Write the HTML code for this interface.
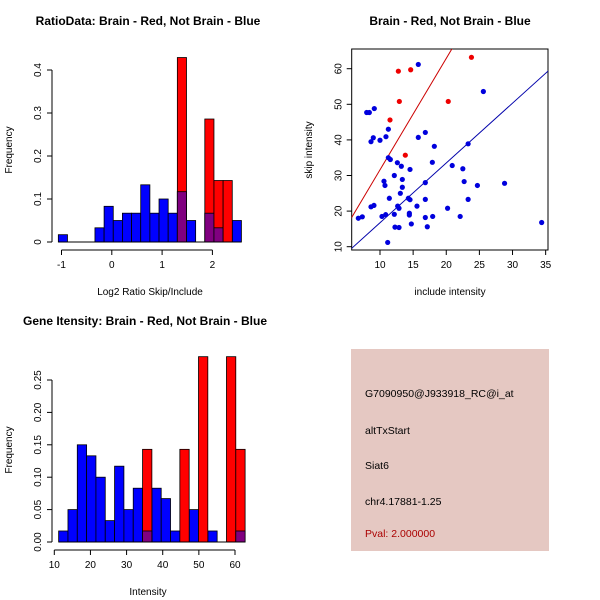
<!DOCTYPE html>
<html><head><meta charset="utf-8"><style>
body{margin:0;background:#fff}
svg{display:block;font-family:"Liberation Sans",sans-serif}
</style></head><body>
<svg id="c" width="600" height="600" viewBox="0 0 600 600"></svg>
<script>
// ---- Panel 1 data (ratio histogram) ----
const ratioStart = -1.063;
const ratioBinWidth = 0.182;
const ratioBlue = [0.017,0,0,0,0.033,0.083,0.05,0.067,0.067,0.133,0.067,0.1,0.067,0.117,0.05,0,0.067,0.033,0,0.05];
const ratioRed  = [0,0,0,0,0,0,0,0,0,0,0,0,0,0.429,0,0,0.286,0.143,0.143,0];
const ratioXTicks = [-1,0,1,2];
const ratioYTicks = [0,0.1,0.2,0.3,0.4];
// ---- Panel 2 data (scatter) ----
const blueX = [6.73,7.33,7.99,8.39,9.14,8.64,8.99,10,10.9,11.26,11.26,11.56,12.62,13.22,14.53,12.16,10.6,10.75,13.37,13.37,13.07,11.41,14.28,14.53,12.67,12.87,8.64,9.09,10.3,10.86,12.16,14.43,14.43,11.16,12.26,12.87,14.73,15.58,16.84,17.95,17.14,16.84,16.84,15.78,16.84,18.2,17.9,20.2,20.9,22.5,22.7,22.1,23.3,24.7,28.8,23.3,25.6,34.4,15.78];
const blueY = [18,18.4,47.7,47.7,48.8,39.5,40.6,39.9,40.9,43,35,34.5,33.6,32.6,31.7,30,28.4,27.2,28.9,26.7,25,23.6,23.6,23.2,21.4,20.8,21.2,21.6,18.5,19,19.1,19.4,18.9,11.2,15.5,15.4,16.4,21.4,18.2,18.5,15.6,23.3,28,40.7,42.1,38.2,33.7,20.8,32.8,31.9,28.3,18.5,23.3,27.2,27.8,38.9,53.6,16.8,61.2];
const redX = [12.77,14.63,12.92,11.51,13.82,20.3,23.8];
const redY = [59.3,59.7,50.8,45.6,35.7,50.8,63.2];
const redFit = [0.3,3.13];   // intercept, slope
const blueFit = [-0.08,1.68];
const scXTicks = [10,15,20,25,30,35];
const scYTicks = [10,20,30,40,50,60];
// ---- Panel 3 data (intensity histogram) ----
const intStart = 11.2;
const intBinWidth = 2.58;
const intBlue = [0.017,0.05,0.15,0.133,0.1,0.033,0.117,0.05,0.083,0.017,0.083,0.067,0.017,0,0.05,0,0.017,0,0,0.017];
const intRed  = [0,0,0,0,0,0,0,0,0,0.143,0,0,0,0.143,0,0.286,0,0,0.286,0.143];
const intXTicks = [10,20,30,40,50,60];
const intYTicks = [0,0.05,0.1,0.15,0.2,0.25];
const intYLabels = ["0.00","0.05","0.10","0.15","0.20","0.25"];
// ---- Panel 4 text ----
const infoLines = ["G7090950@J933918_RC@i_at","altTxStart","Siat6","chr4.17881-1.25"];
const pvalText = "Pval: 2.000000";

const NS="http://www.w3.org/2000/svg";
const svg=document.getElementById('c');
function el(tag,attrs,parent){const e=document.createElementNS(NS,tag);for(const k in attrs)e.setAttribute(k,attrs[k]);(parent||svg).appendChild(e);return e;}
function txt(s,attrs,parent){const e=el('text',attrs,parent);e.textContent=s;return e;}

function histogram(g,opts){
  const {x0,x1,y0,y1,xmin,xmax,ymin,ymax,start,bw,blue,red,xt,yt,ylab,axisX,axisY}=opts;
  const sx=v=>x0+(v-xmin)/(xmax-xmin)*(x1-x0);
  const sy=v=>y0-(v-ymin)/(ymax-ymin)*(y0-y1);
  for(let i=0;i<blue.length;i++){
    const l=sx(start+i*bw), r=sx(start+(i+1)*bw);
    if(blue[i]>0){const b=el('rect',{x:l,y:sy(blue[i]),width:r-l,height:sy(0)-sy(blue[i]),fill:'#0000ff',stroke:'#000','stroke-width':0.8},g);
      
      }
  }
  for(let i=0;i<red.length;i++){
    const l=sx(start+i*bw), r=sx(start+(i+1)*bw);
    if(red[i]>0){const b=el('rect',{x:l,y:sy(red[i]),width:r-l,height:sy(0)-sy(red[i]),fill:'#ff0000',stroke:'#000','stroke-width':0.8},g);
      
      
      const m=Math.min(red[i],blue[i]);
      if(m>0){const p=el('rect',{x:l,y:sy(m),width:r-l,height:sy(0)-sy(m),fill:'#800080',stroke:'#000','stroke-width':0.8},g);
        
        }
    }
  }
  el('line',{x1:sx(start),x2:sx(start+blue.length*bw),y1:sy(0),y2:sy(0),stroke:'#000','stroke-width':1},g);
  const ya=el('g',{},g);
  
  
  el('line',{x1:axisX,x2:axisX,y1:sy(yt[0]),y2:sy(yt[yt.length-1]),stroke:'#000'},ya);
  yt.forEach((v,i)=>{el('line',{x1:axisX-5,x2:axisX,y1:sy(v),y2:sy(v),stroke:'#000'},ya);
    txt(ylab?ylab[i]:String(v),{x:axisX-11,y:sy(v),transform:`rotate(-90 ${axisX-11} ${sy(v)})`,'text-anchor':'middle','font-size':10},ya);});
  const xa=el('g',{},g);
  
  
  el('line',{x1:sx(xt[0]),x2:sx(xt[xt.length-1]),y1:axisY,y2:axisY,stroke:'#000'},xa);
  xt.forEach(v=>{el('line',{x1:sx(v),x2:sx(v),y1:axisY,y2:axisY+5,stroke:'#000'},xa);
    txt(String(v),{x:sx(v),y:axisY+18,'text-anchor':'middle','font-size':10},xa);});
}

const g1=el('g',{});


histogram(g1,{x0:61.5,x1:212.4,y0:242,y1:70,xmin:-1,xmax:2,ymin:0,ymax:0.4,start:ratioStart,bw:ratioBinWidth,blue:ratioBlue,red:ratioRed,xt:ratioXTicks,yt:ratioYTicks,axisX:52,axisY:250});
txt('RatioData: Brain - Red, Not Brain - Blue',{x:148,y:25,'text-anchor':'middle','font-size':12,'font-weight':'bold'},g1);
txt('Log2 Ratio Skip/Include',{x:150,y:295,'text-anchor':'middle','font-size':10},g1);
txt('Frequency',{x:12,y:150,transform:'rotate(-90 12 150)','text-anchor':'middle','font-size':10},g1);

const g3=el('g',{});


histogram(g3,{x0:54.3,x1:235,y0:542,y1:380,xmin:10,xmax:60,ymin:0,ymax:0.25,start:intStart,bw:intBinWidth,blue:intBlue,red:intRed,xt:intXTicks,yt:intYTicks,ylab:intYLabels,axisX:52,axisY:550});
txt('Gene Itensity: Brain - Red, Not Brain - Blue',{x:145,y:325,'text-anchor':'middle','font-size':12,'font-weight':'bold'},g3);
txt('Intensity',{x:148,y:595,'text-anchor':'middle','font-size':10},g3);
txt('Frequency',{x:12,y:450,transform:'rotate(-90 12 450)','text-anchor':'middle','font-size':10},g3);

const g2=el('g',{});


const px0=351.7,px1=548,py0=250,py1=49;
const sx2=v=>380+(v-10)*(33.13/5);
const sy2=v=>246.7-(v-10)*(35.6/10);
const cp=el('clipPath',{id:'clip2'},g2);
el('rect',{x:px0,y:py1,width:px1-px0,height:py0-py1},cp);
el('rect',{x:px0,y:py1,width:px1-px0,height:py0-py1,fill:'none',stroke:'#000'},g2);
const lines=el('g',{'clip-path':'url(#clip2)'},g2);
const xa0=5,xa1=40;
const rl=el('line',{x1:sx2(xa0),y1:sy2(redFit[0]+redFit[1]*xa0),x2:sx2(xa1),y2:sy2(redFit[0]+redFit[1]*xa1),stroke:'#cc0000','stroke-width':1},lines);


const bl=el('line',{x1:sx2(xa0),y1:sy2(blueFit[0]+blueFit[1]*xa0),x2:sx2(xa1),y2:sy2(blueFit[0]+blueFit[1]*xa1),stroke:'#0000aa','stroke-width':1},lines);


for(let i=0;i<blueX.length;i++){const c=el('circle',{cx:sx2(blueX[i]),cy:sy2(blueY[i]),r:2.6,fill:'#0000dd'},g2);
  
  }
for(let i=0;i<redX.length;i++){const c=el('circle',{cx:sx2(redX[i]),cy:sy2(redY[i]),r:2.6,fill:'#ee0000'},g2);
  
  }
scXTicks.forEach(v=>{el('line',{x1:sx2(v),x2:sx2(v),y1:py0,y2:py0+5,stroke:'#000'},g2);
  txt(String(v),{x:sx2(v),y:py0+18,'text-anchor':'middle','font-size':10},g2);});
scYTicks.forEach(v=>{el('line',{x1:px0-5,x2:px0,y1:sy2(v),y2:sy2(v),stroke:'#000'},g2);
  txt(String(v),{x:px0-10,y:sy2(v),transform:`rotate(-90 ${px0-10} ${sy2(v)})`,'text-anchor':'middle','font-size':10},g2);});
txt('Brain - Red, Not Brain - Blue',{x:450,y:25,'text-anchor':'middle','font-size':12,'font-weight':'bold'},g2);
txt('include intensity',{x:450,y:295,'text-anchor':'middle','font-size':10},g2);
txt('skip intensity',{x:312,y:150,transform:'rotate(-90 312 150)','text-anchor':'middle','font-size':10},g2);

const g4=el('g',{});


el('rect',{x:351,y:349,width:198,height:202,fill:'#e5c8c2'},g4);
const ys=[397,434,469,505];
infoLines.forEach((s,i)=>{txt(s,{x:365,y:ys[i],'font-size':10.5,fill:'#000'},g4);});
txt(pvalText,{x:365,y:537,'font-size':10.5,fill:'#aa0000'},g4);
</script>
</body></html>
